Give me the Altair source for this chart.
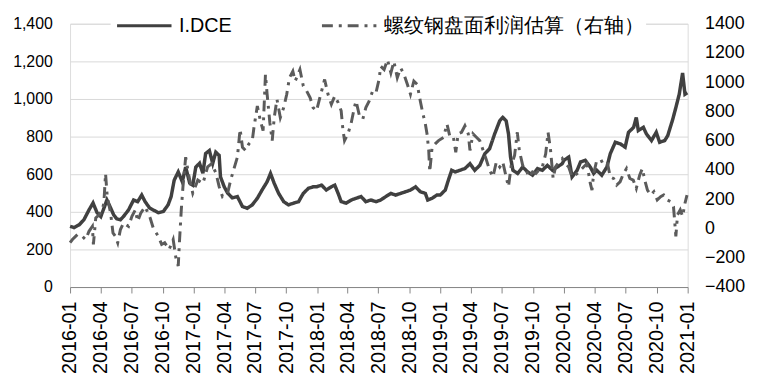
import altair as alt
import pandas as pd

FONT = "Liberation Sans"

series_names = ["I.DCE", "螺纹钢盘面利润估算（右轴）"]
left_ticks = list(range(0, 1401, 200))
right_ticks = list(range(-400, 1401, 200))
quarter_ticks = [(y, m) for y in range(2016, 2021) for m in (1, 4, 7, 10)] + [(2021, 1)]

dce_dates = [
    "2016-01-01", "2016-01-13", "2016-01-28", "2016-02-11", "2016-02-26", "2016-03-09", "2016-03-21",
    "2016-04-01", "2016-04-12", "2016-04-19", "2016-04-30", "2016-05-09", "2016-05-18", "2016-05-29",
    "2016-06-07", "2016-06-22", "2016-07-07", "2016-07-19", "2016-07-31", "2016-08-10", "2016-08-23",
    "2016-09-03", "2016-09-18", "2016-10-03", "2016-10-17", "2016-10-26", "2016-11-04", "2016-11-16",
    "2016-11-28", "2016-12-08", "2016-12-20", "2016-12-29", "2017-01-07", "2017-01-18", "2017-01-28",
    "2017-02-05", "2017-02-16", "2017-02-26", "2017-03-07", "2017-03-17", "2017-03-21", "2017-04-01",
    "2017-04-11", "2017-04-25", "2017-05-10", "2017-05-25", "2017-06-08", "2017-06-23", "2017-07-08",
    "2017-07-22", "2017-08-06", "2017-08-16", "2017-08-27", "2017-09-09", "2017-09-24", "2017-10-08",
    "2017-10-23", "2017-11-07", "2017-11-21", "2017-12-06", "2017-12-20", "2017-12-30", "2018-01-14",
    "2018-01-28", "2018-02-12", "2018-02-22", "2018-03-04", "2018-03-13", "2018-03-28", "2018-04-12",
    "2018-04-26", "2018-05-11", "2018-05-25", "2018-06-09", "2018-06-24", "2018-07-08", "2018-07-23",
    "2018-08-07", "2018-08-21", "2018-09-05", "2018-09-20", "2018-10-04", "2018-10-19", "2018-11-02",
    "2018-11-17", "2018-11-24", "2018-12-07", "2018-12-21", "2018-12-31", "2019-01-15", "2019-01-24",
    "2019-02-03", "2019-02-13", "2019-02-27", "2019-03-14", "2019-03-29", "2019-04-12", "2019-04-27",
    "2019-05-12", "2019-05-26", "2019-06-10", "2019-06-25", "2019-07-04", "2019-07-14", "2019-07-21",
    "2019-07-27", "2019-08-03", "2019-08-17", "2019-09-01", "2019-09-16", "2019-09-30", "2019-10-15",
    "2019-10-29", "2019-11-13", "2019-11-28", "2019-12-12", "2019-12-27", "2020-01-01", "2020-01-15",
    "2020-01-25", "2020-02-09", "2020-02-19", "2020-03-04", "2020-03-19", "2020-03-29", "2020-04-07",
    "2020-04-22", "2020-05-07", "2020-05-17", "2020-06-01", "2020-06-16", "2020-06-30", "2020-07-10",
    "2020-07-25", "2020-08-02", "2020-08-08", "2020-08-23", "2020-09-01", "2020-09-16", "2020-09-30",
    "2020-10-10", "2020-10-25", "2020-11-03", "2020-11-18", "2020-11-27", "2020-12-07", "2020-12-17",
    "2020-12-24", "2020-12-31",
]
dce_values = [
    323, 316, 331, 358, 410, 447, 395,
    375, 428, 463, 421, 384, 363, 358,
    375, 410, 463, 454, 489, 454, 421,
    410, 395, 402, 437, 481, 568, 612,
    560, 638, 552, 542, 638, 658, 605,
    710, 726, 658, 717, 700, 586, 533,
    500, 474, 481, 428, 419, 437, 472,
    516, 560, 604, 551, 498, 454, 437,
    446, 454, 498, 525, 533, 533, 542,
    516, 533, 542, 498, 454, 446, 463,
    472, 481, 454, 463, 454, 463, 481,
    498, 489, 498, 507, 516, 533, 507,
    498, 463, 472, 489, 489, 516, 568,
    621, 612, 621, 630, 656, 621, 647,
    709, 735, 814, 884, 902, 884, 814,
    691, 621, 604, 638, 612, 595, 630,
    621, 647, 621, 638, 656, 674, 691,
    586, 621, 665, 674, 638, 604, 621,
    595, 638, 709, 770, 761, 744, 823,
    849, 902, 832, 849, 814, 779, 823,
    770, 779, 805, 893, 954, 1025, 1138,
    1025, 1033,
]

profit_dates = [
    "2016-01-01", "2016-01-08", "2016-01-23", "2016-02-06", "2016-02-16", "2016-02-26", "2016-03-07",
    "2016-03-10", "2016-03-17", "2016-03-27", "2016-04-05", "2016-04-10", "2016-04-15", "2016-04-20",
    "2016-04-30", "2016-05-07", "2016-05-14", "2016-05-21", "2016-05-29", "2016-06-07", "2016-06-22",
    "2016-07-02", "2016-07-12", "2016-07-19", "2016-07-28", "2016-08-10", "2016-08-25", "2016-09-03",
    "2016-09-18", "2016-09-28", "2016-10-07", "2016-10-20", "2016-11-01", "2016-11-09", "2016-11-16",
    "2016-11-20", "2016-11-25", "2016-11-30", "2016-12-08", "2016-12-18", "2016-12-29", "2017-01-13",
    "2017-01-28", "2017-02-11", "2017-02-23", "2017-03-08", "2017-03-17", "2017-03-27", "2017-04-11",
    "2017-04-20", "2017-04-30", "2017-05-10", "2017-05-18", "2017-05-25", "2017-06-03", "2017-06-13",
    "2017-06-23", "2017-06-28", "2017-07-08", "2017-07-17", "2017-07-25", "2017-08-01", "2017-08-06",
    "2017-08-14", "2017-08-21", "2017-08-27", "2017-09-04", "2017-09-14", "2017-09-24", "2017-10-03",
    "2017-10-11", "2017-10-21", "2017-10-28", "2017-11-07", "2017-11-11", "2017-11-21", "2017-12-01",
    "2017-12-11", "2017-12-20", "2017-12-30", "2018-01-09", "2018-01-23", "2018-02-02", "2018-02-12",
    "2018-02-22", "2018-03-04", "2018-03-13", "2018-03-18", "2018-03-23", "2018-04-02", "2018-04-12",
    "2018-04-21", "2018-04-26", "2018-05-06", "2018-05-16", "2018-05-25", "2018-06-04", "2018-06-14",
    "2018-06-24", "2018-07-03", "2018-07-08", "2018-07-18", "2018-07-28", "2018-08-07", "2018-08-16",
    "2018-08-26", "2018-09-05", "2018-09-15", "2018-09-25", "2018-10-04", "2018-10-14", "2018-10-24",
    "2018-11-02", "2018-11-09", "2018-11-17", "2018-11-22", "2018-11-27", "2018-11-30", "2018-12-07",
    "2018-12-16", "2018-12-26", "2019-01-10", "2019-01-20", "2019-01-29", "2019-02-08", "2019-02-15",
    "2019-02-22", "2019-03-04", "2019-03-14", "2019-03-24", "2019-03-29", "2019-04-07", "2019-04-17",
    "2019-04-27", "2019-05-07", "2019-05-17", "2019-05-26", "2019-06-05", "2019-06-15", "2019-06-25",
    "2019-07-04", "2019-07-14", "2019-07-21", "2019-07-29", "2019-08-08", "2019-08-16", "2019-08-22",
    "2019-09-01", "2019-09-11", "2019-09-20", "2019-09-30", "2019-10-10", "2019-10-19", "2019-10-29",
    "2019-11-08", "2019-11-15", "2019-11-22", "2019-11-30", "2019-12-07", "2019-12-17", "2019-12-27",
    "2020-01-01", "2020-01-15", "2020-01-25", "2020-02-09", "2020-02-19", "2020-02-28", "2020-03-09",
    "2020-03-19", "2020-03-24", "2020-03-29", "2020-04-07", "2020-04-17", "2020-04-27", "2020-05-07",
    "2020-05-17", "2020-05-27", "2020-06-05", "2020-06-15", "2020-06-25", "2020-07-04", "2020-07-14",
    "2020-07-24", "2020-08-02", "2020-08-12", "2020-08-20", "2020-08-27", "2020-09-04", "2020-09-14",
    "2020-09-23", "2020-10-03", "2020-10-13", "2020-10-22", "2020-11-01", "2020-11-11", "2020-11-20",
    "2020-11-24", "2020-11-27", "2020-12-02", "2020-12-10", "2020-12-17", "2020-12-24", "2020-12-30",
]
profit_values = [
    -97, -75, -41, -53, -75, -19, 15,
    -109, 72, 94, 128, 173, 376, 218,
    105, -30, -53, -97, -7, 38, 15,
    83, 128, 49, 105, 150, 72, 4,
    -53, -109, -97, -143, -75, -199, -256,
    -75, 128, 286, 488, 353, 241, 331,
    308, 421, 444, 376, 286, 218, 241,
    331, 410, 488, 680, 556, 534, 579,
    601, 691, 838, 737, 669, 1053, 918,
    725, 601, 759, 884, 759, 827, 918,
    1031, 1075, 1008, 1064, 1087, 974, 940,
    895, 827, 805, 895, 1019, 918, 850,
    906, 861, 805, 680, 601, 647, 725,
    827, 872, 771, 748, 827, 872, 940,
    929, 1019, 1109, 1087, 1154, 1064, 1143,
    1031, 1098, 1053, 985, 918, 1008, 985,
    872, 793, 715, 647, 534, 387, 556,
    579, 601, 624, 715, 624, 624, 522,
    647, 658, 703, 647, 534, 647, 624,
    601, 534, 466, 399, 353, 455, 421,
    455, 353, 286, 432, 500, 658, 534,
    432, 399, 353, 387, 376, 399, 421,
    511, 658, 545, 342, 421, 455, 478,
    455, 421, 353, 376, 399, 421, 444,
    308, 263, 376, 466, 455, 466, 466,
    353, 342, 297, 319, 376, 410, 342,
    331, 274, 365, 410, 331, 263, 229,
    252, 196, 218, 229, 196, 184, 150,
    38, -53, 94, 128, 83, 173, 229,
]

df1 = pd.DataFrame({"date": pd.to_datetime(dce_dates), "value": dce_values, "series": series_names[0]})
df2 = pd.DataFrame({"date": pd.to_datetime(profit_dates), "value": profit_values, "series": series_names[1]})

x_enc = alt.X(
    "date:T",
    scale=alt.Scale(domain=[alt.DateTime(year=2016, month=1, date=1), alt.DateTime(year=2021, month=1, date=1)]),
    axis=alt.Axis(
        values=[alt.DateTime(year=y, month=m, date=1) for y, m in quarter_ticks],
        format="%Y-%m", labelAngle=270, labelFontSize=20, labelFont=FONT, labelColor="#000000",
        tickSize=6, tickColor="#868686", domainColor="#868686", grid=False, labelPadding=8,
        labelOverlap=False, labelFlush=False, title=None,
    ),
)

legend = alt.Legend(
    orient="none", legendX=41, legendY=-32, direction="horizontal", title=None,
    symbolType="stroke", symbolSize=3025, symbolStrokeWidth=3, labelFontSize=20,
    labelFont=FONT, labelColor="#000000", labelLimit=400, columnPadding=84, fillColor="white",
    padding=5, labelOffset=6,
)
color_enc = alt.Color("series:N", scale=alt.Scale(domain=series_names, range=["#404040", "#5b5b5b"]), legend=legend)
dash_enc = alt.StrokeDash("series:N", scale=alt.Scale(domain=series_names, range=[[1, 0], [11, 6, 3, 6]]), legend=legend)

left = alt.Chart(df1).mark_line(strokeWidth=3.5).encode(
    x=x_enc,
    y=alt.Y("value:Q", scale=alt.Scale(domain=[0, 1400], nice=False),
            axis=alt.Axis(values=left_ticks, format=",d", labelFontSize=16, labelFont=FONT,
                          labelColor="#000000", ticks=False, domain=False, grid=True,
                          gridColor="#d9d9d9", labelPadding=18, title=None)),
    color=color_enc, strokeDash=dash_enc,
)

right = alt.Chart(df2).mark_line(strokeWidth=3).encode(
    x=x_enc,
    y=alt.Y("value:Q", scale=alt.Scale(domain=[-400, 1400], nice=False),
            axis=alt.Axis(orient="right", values=right_ticks, format="d", labelFontSize=18, labelFont=FONT,
                          labelColor="#000000", ticks=False, domain=False, grid=False,
                          labelPadding=17, title=None)),
    color=color_enc, strokeDash=dash_enc,
)

chart = alt.layer(left, right).resolve_scale(y="independent").properties(
    width=624, height=266,
    autosize=alt.AutoSizeParams(type="none"),
    padding={"left": 62.7, "top": 14, "right": 66, "bottom": 93},
).configure_view(strokeWidth=0).configure(background="white")

chart.save("out.html", embed_options={"renderer": "svg", "actions": False})
